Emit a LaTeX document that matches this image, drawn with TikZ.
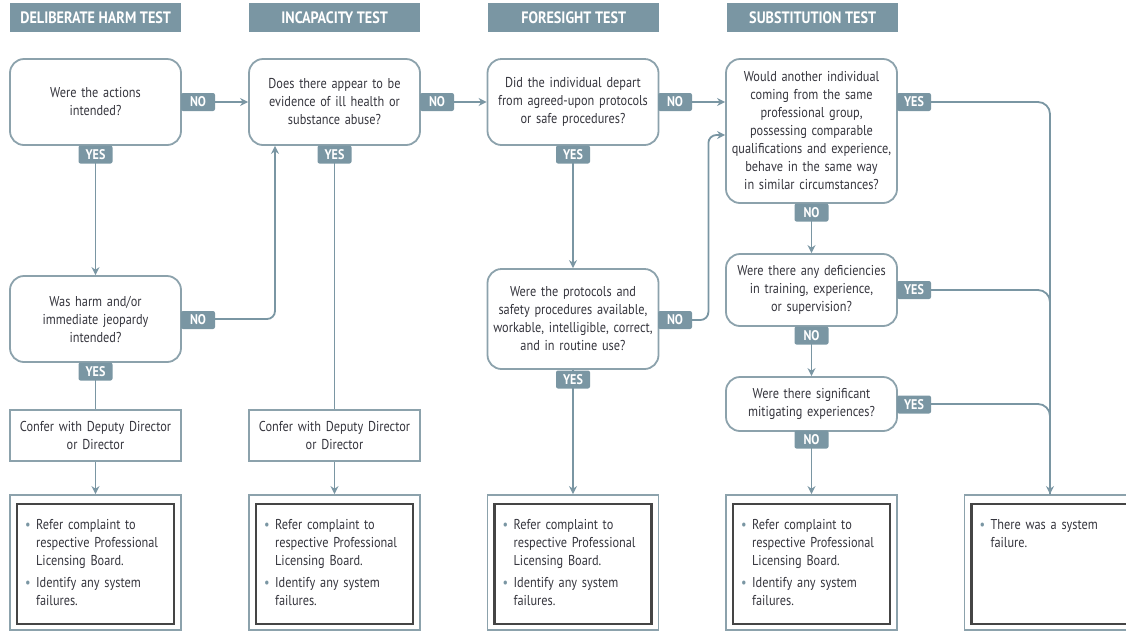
\documentclass[tikz,border=0pt]{standalone}
\usepackage{fontspec}
\setmainfont{PT Sans}[FakeStretch=0.86]
\usetikzlibrary{arrows.meta,calc}
\definecolor{sl}{HTML}{7A96A3}
\definecolor{bx}{HTML}{8CA2AC}
\definecolor{tx}{HTML}{35353D}
\definecolor{ib}{HTML}{454545}
\newcommand{\bl}{\makebox[11pt][l]{\color{sl}\textbullet}}
\newcommand{\ind}{\hspace*{11pt}}
\begin{document}
\begin{tikzpicture}[x=1pt,y=-1pt,
  hdr/.style={fill=sl,text=white,font=\bfseries\fontsize{16.5}{18}\selectfont,minimum width=171,minimum height=29,inner sep=0,anchor=north west},
  qbox/.style={draw=bx,line width=1.8,rounded corners=14,minimum width=171,text width=169,align=center,font=\fontsize{14.3}{18}\selectfont,text=tx,inner sep=0},
  cbox/.style={draw=bx,line width=1.8,minimum width=171,minimum height=51,text width=169,align=center,font=\fontsize{14.3}{18}\selectfont,text=tx,inner sep=0},
  obox/.style={draw=bx,line width=1.8,minimum width=171,minimum height=135,inner sep=0},
  ibox/.style={draw=ib,line width=2.2,minimum width=157,minimum height=120,inner sep=0},
  btxt/.style={anchor=north west,text width=150,align=left,font=\fontsize{14.3}{18}\selectfont,text=tx,inner sep=0},
  tag/.style={fill=sl,text=white,font=\bfseries\fontsize{14}{15}\selectfont,rounded corners=2,minimum width=34,minimum height=18,inner sep=0},
  ln/.style={draw=sl,line width=1.8},
  arr/.style={ln,-{Stealth[length=8pt,width=8pt]}}
]
\useasboundingbox (0,0) rectangle (1126,630);
\clip (0,0) rectangle (1126,630);

% headers
\node[hdr] (h1) at (10,3) {DELIBERATE HARM TEST};
\node[hdr] (h2) at (249,3) {INCAPACITY TEST};
\node[hdr] (h3) at (488,3) {FORESIGHT TEST};
\node[hdr] (h4) at (727,3) {SUBSTITUTION TEST};

% questions
\node[qbox,minimum height=86] (q1) at (95.5,102) {Were the actions\\intended?};
\node[qbox,minimum height=86] (q2) at (334.5,102) {Does there appear to be\\evidence of ill health or\\substance abuse?};
\node[qbox,minimum height=86] (q3) at (573,102) {Did the individual depart\\from agreed-upon protocols\\or safe procedures?};
\node[qbox,minimum height=144] (q4) at (811.5,131) {Would another individual\\coming from the same\\professional group,\\possessing comparable\\qualifications and experience,\\behave in the same way\\in similar circumstances?};
\node[qbox,minimum height=86] (q5) at (95.5,319) {Was harm and/or\\immediate jeopardy\\intended?};
\node[qbox,minimum height=100] (q6) at (573,319) {Were the protocols and\\safety procedures available,\\workable, intelligible, correct,\\and in routine use?};
\node[qbox,minimum height=72] (q7) at (811.5,290) {Were there any deficiencies\\in training, experience,\\or supervision?};
\node[qbox,minimum height=54] (q8) at (811.5,404) {Were there significant\\mitigating experiences?};

% confer
\node[cbox] (c1) at (95.5,435.5) {Confer with Deputy Director\\or Director};
\node[cbox] (c2) at (334.5,435.5) {Confer with Deputy Director\\or Director};

% final boxes
\foreach \n/\x in {1/95.5,2/334.5,3/573,4/811.5,5/1050}{
  \node[obox] (f\n) at (\x,562.5) {};
  \node[ibox] (i\n) at (\x,564) {};
}
\foreach \n in {1,2,3,4}{
  \node[btxt] (t\n) at ([xshift=9pt,yshift=-16pt]i\n.north west) {\bl Refer complaint to\\\ind respective Professional\\\ind Licensing Board.\\[4pt]\bl Identify any system\\\ind failures.};
}
\node[btxt] (t5) at ([xshift=9pt,yshift=-16pt]i5.north west) {\bl There was a system\\\ind failure.};

% connectors
\draw[arr] (q1.south) -- (q5.north);
\draw[arr] (q1.east) -- (q2.west);
\draw[arr,rounded corners=8] (q5.east) -| ([xshift=-59.5pt]q2.south);
\draw[ln] (q5.south) -- (c1.north);
\draw[arr] (c1.south) -- (f1.north);
\draw[arr] (q2.east) -- (q3.west);
\draw[ln] (q2.south) -- (c2.north);
\draw[arr] (c2.south) -- (f2.north);
\draw[arr] (q3.east) -- (q4.west |- q3.east);
\draw[arr] (q3.south) -- (q6.north);
\draw[arr,rounded corners=8] ([yshift=-1pt]q6.east) -- ++(49,0) |- ([yshift=-4pt]q4.west);
\draw[arr] (q6.south) -- (f3.north);
\draw[arr,rounded corners=12] ([yshift=29pt]q4.east) -| (f5.north);
\draw[ln,rounded corners=12] (q7.east) -| (f5.north);
\draw[ln,rounded corners=12] (q8.east) -| (f5.north);
\draw[arr] (q4.south) -- (q7.north);
\draw[arr] (q7.south) -- (q8.north);
\draw[arr] (q8.south) -- (f4.north);

% tags
\node[tag] (q1no) at (198,102) {NO};
\node[tag] (q1yes) at (95.5,154.5) {YES};
\node[tag] (q2no) at (437,102) {NO};
\node[tag] (q2yes) at (334.5,154.5) {YES};
\node[tag] (q3no) at (675,102) {NO};
\node[tag] (q3yes) at (573,154.5) {YES};
\node[tag] (q4yes) at (914,102) {YES};
\node[tag] (q4no) at (811.5,212.5) {NO};
\node[tag] (q5no) at (198,320) {NO};
\node[tag] (q5yes) at (95.5,371.5) {YES};
\node[tag] (q6no) at (675,320) {NO};
\node[tag] (q6yes) at (573,379.5) {YES};
\node[tag] (q7yes) at (914,290) {YES};
\node[tag] (q7no) at (811.5,335.5) {NO};
\node[tag] (q8yes) at (914,404.5) {YES};
\node[tag] (q8no) at (811.5,439.5) {NO};
\end{tikzpicture}
\end{document}
